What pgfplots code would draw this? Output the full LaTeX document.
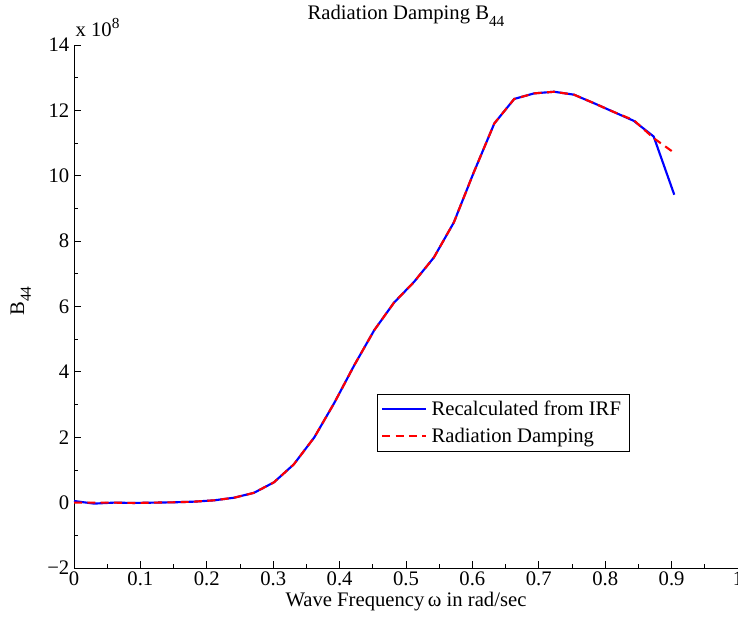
\documentclass[border=0pt]{standalone}
\usepackage{pgfplots}
\pgfplotsset{compat=1.18}
\usepackage{fontspec}
\setmainfont{Liberation Serif}
\newcommand{\sub}[1]{\raisebox{-5pt}{\fontsize{11.5}{12}\selectfont #1}}
\begin{document}
\begin{tikzpicture}[font=\fontsize{15.5}{17}\selectfont]
\begin{axis}[
  name=ax,
  scale only axis,
  width=498pt, height=392.25pt,
  xmin=0, xmax=1, ymin=-2, ymax=14,
  axis lines=left,
  axis line style={-, black, line width=0.6pt},
  tick align=inside,
  xtick pos=left, ytick pos=left,
  xtick={0,0.1,...,1.01},
  xticklabels={0,0.1,0.2,0.3,0.4,0.5,0.6,0.7,0.8,0.9,1},
  ytick={-2,0,2,4,6,8,10,12,14},
  yticklabels={−2,0,2,4,6,8,10,12,14},
  minor x tick num=1, minor y tick num=1,
  major tick length=5pt, minor tick length=3pt,
  tick style={black, line width=0.6pt},
  xticklabel style={yshift=1pt},
  /pgf/number format/assume math mode=true,
  legend style={at={(rel axis cs:0.456,0.333)}, anchor=north west, draw=black, line width=0.6pt,
    inner xsep=3pt, inner ysep=5pt, row sep=8pt, font=\fontsize{15.5}{17}\selectfont, legend cell align=left,
    nodes={inner xsep=3.5pt, inner ysep=0pt}},
  legend image code/.code={\draw[#1] (0cm,0cm) -- (1.15cm,0cm);},
  clip=false,
]
\addplot[blue, line width=1.6pt] coordinates {
(0,0.05) (0.030,-0.03) (0.060,0.0) (0.090,-0.01) (0.121,0.0) (0.151,0.01) (0.181,0.03)
(0.211,0.07) (0.241,0.15) (0.271,0.30) (0.301,0.62) (0.331,1.17) (0.362,2.0) (0.392,3.05)
(0.422,4.2) (0.452,5.27) (0.482,6.12) (0.512,6.75) (0.542,7.5) (0.572,8.57) (0.602,10.1)
(0.633,11.6) (0.663,12.35) (0.693,12.52) (0.723,12.57) (0.753,12.48) (0.783,12.22)
(0.813,11.95) (0.843,11.68) (0.873,11.2) (0.904,9.42)};
\addlegendentry{Recalculated from IRF}
\addplot[red, line width=1.6pt, dash pattern=on 6pt off 4pt] coordinates {
(0,0.0) (0.030,0.0) (0.060,0.0) (0.090,-0.01) (0.121,0.0) (0.151,0.01) (0.181,0.03)
(0.211,0.07) (0.241,0.15) (0.271,0.30) (0.301,0.62) (0.331,1.17) (0.362,2.0) (0.392,3.05)
(0.422,4.2) (0.452,5.27) (0.482,6.12) (0.512,6.75) (0.542,7.5) (0.572,8.57) (0.602,10.1)
(0.633,11.6) (0.663,12.35) (0.693,12.52) (0.723,12.57) (0.753,12.48) (0.783,12.22)
(0.813,11.95) (0.843,11.7) (0.873,11.15) (0.904,10.7)};
\addlegendentry{Radiation Damping}
\coordinate (bl) at (rel axis cs:0,0);
\coordinate (tr) at (rel axis cs:1,1);
\coordinate (tc) at (rel axis cs:0.5,1);
\coordinate (bc) at (rel axis cs:0.5,0);
\coordinate (lc) at (rel axis cs:0,0.5);
\coordinate (tl) at (rel axis cs:0,1);
\end{axis}
\node[anchor=base] at ([yshift=19pt]tc) {Radiation Damping B\sub{44}};
\node[anchor=base] at ([yshift=-28.5pt]bc) {Wave Frequency\,ω in rad/sec};
\node[rotate=90, anchor=center] at ([xshift=-40pt,yshift=4pt]lc) {B\sub{44}};
\node[anchor=base west, inner sep=0pt] at ([xshift=1pt,yshift=6pt]tl) {x 10\raisebox{6pt}{\fontsize{11.5}{12}\selectfont 8}};
\pgfresetboundingbox
\path[use as bounding box] ([shift={(-55.5pt,-40.5pt)}]bl) rectangle ([shift={(0pt,33.75pt)}]tr);
\end{tikzpicture}
\end{document}
